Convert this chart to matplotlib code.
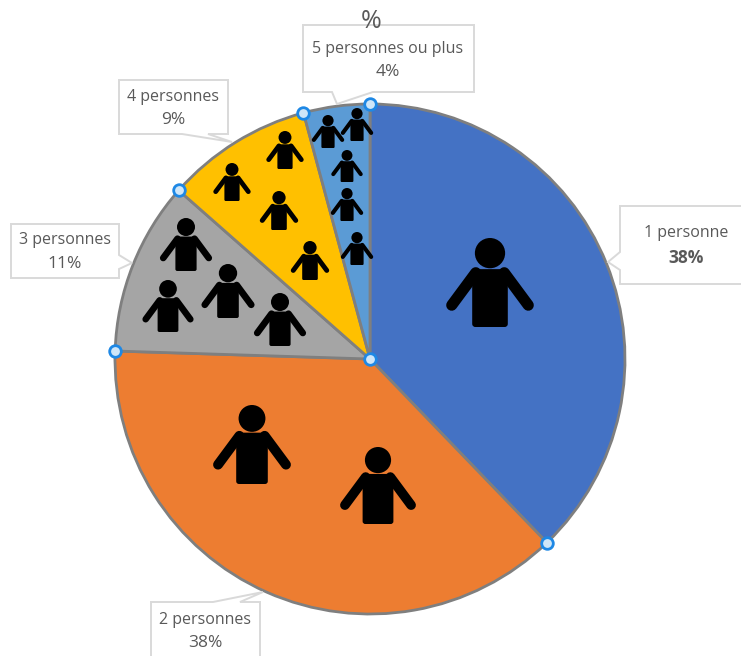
import numpy as np
import matplotlib
matplotlib.use('Agg')
import matplotlib.pyplot as plt
from matplotlib.patches import Circle, FancyBboxPatch, Polygon

categories = ['1 personne', '2 personnes', '3 personnes', '4 personnes', '5 personnes ou plus']
values = [37.8, 37.7, 11.0, 9.3, 4.2]
percent_labels = ['38%', '38%', '11%', '9%', '4%']
colors = ['#4472C4', '#ED7D31', '#A5A5A5', '#FFC000', '#5B9BD5']

W, H = 741, 656
CX, CY, R = 370, 359, 255

plt.rcParams['font.family'] = ['Open Sans', 'DejaVu Sans']


def Y(y):
	# picture coords have y going down
	return H - y


def draw_person(ax, cx, top, h):
	ax.add_patch(Circle((cx, Y(top + 0.17 * h)), 0.17 * h, color='black', lw=0, zorder=5))
	bw = 0.2 * h
	pad = 0.035 * h
	ax.add_patch(FancyBboxPatch((cx - bw + pad, Y(top + h) + pad), 2 * bw - 2 * pad, 0.65 * h - 2 * pad,
		boxstyle=f'round,pad={pad}', color='black', lw=0, zorder=5))
	lw = 0.125 * h * 0.72
	for side in (-1, 1):
		ax.plot([cx + side * 0.16 * h, cx + side * 0.43 * h], [Y(top + 0.39 * h), Y(top + 0.755 * h)],
			color='black', lw=lw, solid_capstyle='round', zorder=5)


def draw_callout(ax, box, pointer):
	x0, x1, y0, y1 = box
	side, a, b, tip = pointer
	if side == 'top':
		pts = [(x0, y0), (a, y0), tip, (b, y0), (x1, y0), (x1, y1), (x0, y1)]
	elif side == 'bottom':
		pts = [(x0, y0), (x1, y0), (x1, y1), (b, y1), tip, (a, y1), (x0, y1)]
	elif side == 'left':
		pts = [(x0, y0), (x1, y0), (x1, y1), (x0, y1), (x0, b), tip, (x0, a)]
	else:
		pts = [(x0, y0), (x1, y0), (x1, a), tip, (x1, b), (x1, y1), (x0, y1)]
	ax.add_patch(Polygon([(px, Y(py)) for px, py in pts], closed=True, fc='white', ec='#D9D9D9', lw=1.4, zorder=6))


fig = plt.figure(figsize=(W / 100, H / 100), dpi=100)
ax = fig.add_axes([0, 0, 1, 1])

# Pie
ax.pie(values, colors=colors, startangle=90, counterclock=False, center=(CX, Y(CY)), radius=R, frame=True,
	wedgeprops={'edgecolor': '#7F7F7F', 'linewidth': 2.0})
ax.set_xlim(0, W)
ax.set_ylim(0, H)
ax.set_aspect('equal')
ax.axis('off')

# Person icons: x, top, height
blue_people = [(490, 238, 89)]
orange_people = [(252, 405, 79), (378, 447, 77)]
gray_people = [(186, 218, 53), (168, 280, 52), (228, 264, 54), (280, 293, 53)]
yellow_people = [(285, 131, 38), (232, 163, 38), (279, 191, 39), (310, 241, 39)]
light_people = [(328, 115, 33), (357, 108, 33), (347, 150, 32), (347, 188, 33), (357, 232, 33)]
for group in (blue_people, orange_people, gray_people, yellow_people, light_people):
	for cx, top, h in group:
		draw_person(ax, cx, top, h)

# Callouts
callouts = [
	((620, 745, 206, 284), ('left', 252, 270, (608, 262)), (686, 233), (686, 258)),
	((151, 260, 602, 660), ('top', 213, 240, (263, 592)), (205, 620), (205, 643)),
	((11, 119, 224, 278), ('right', 255, 269, (132, 263)), (65, 240), (65, 264)),
	((119, 228, 80, 134), ('bottom', 182, 208, (232, 142)), (173, 97), (173, 120)),
	((303, 474, 25, 92), ('bottom', 332, 373, (337, 104)), (388, 49), (388, 72)),
]
for i in range(len(categories)):
	box, pointer, name_pos, pct_pos = callouts[i]
	draw_callout(ax, box, pointer)
	ax.text(name_pos[0], Y(name_pos[1]), categories[i], ha='center', va='center', fontsize=11.5, color='#595959', zorder=7)
	ax.text(pct_pos[0], Y(pct_pos[1]), percent_labels[i], ha='center', va='center', fontsize=12.5, color='#595959', zorder=7,
		fontweight='bold' if i == 0 else 'normal')

# Stray title
ax.text(371, Y(22), '%', ha='center', va='center', fontsize=18, color='#595959', zorder=8)

# Selection handles on the slice boundaries
bounds = np.cumsum([0] + values[:-1]) / sum(values) * 2 * np.pi
hx = CX + R * np.sin(bounds)
hy = CY - R * np.cos(bounds)
ax.scatter(np.append(hx, CX), Y(np.append(hy, CY)), s=70, facecolor='#CFE6F8', edgecolor='#1E88E5', linewidth=2, zorder=9, clip_on=False)

fig.savefig('out.png', dpi=100)
